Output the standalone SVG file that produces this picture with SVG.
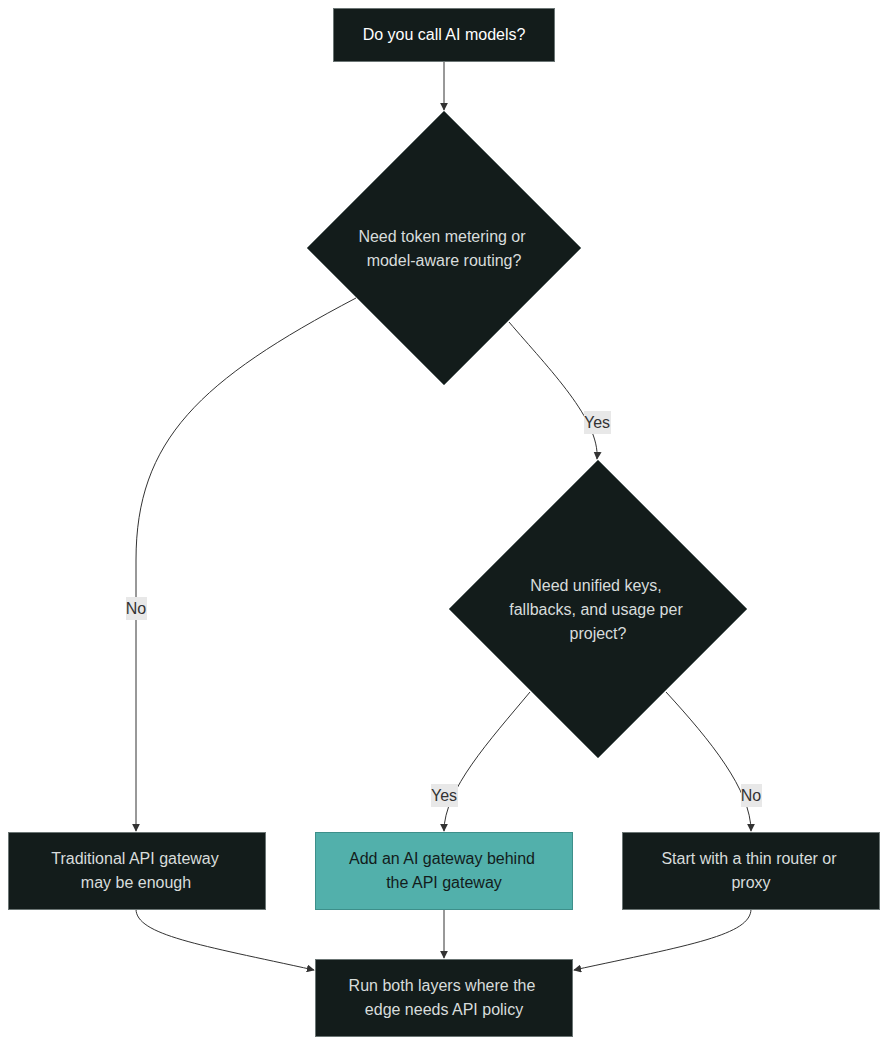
<svg xmlns="http://www.w3.org/2000/svg" width="896" height="1054" viewBox="0 0 896 1054">
<style>
.n{fill:#131c1b;stroke:#6b7574;stroke-width:1}
.t{fill:#d8dcdc;font-family:"Liberation Sans",Arial,sans-serif;font-size:16px;text-anchor:middle}
.e{fill:none;stroke:#333;stroke-width:1;marker-end:url(#a)}
.lb{fill:#e8e8e8}
.lt{fill:#333;font-family:"Liberation Sans",Arial,sans-serif;font-size:16px;text-anchor:middle}
</style>
<defs><marker id="a" viewBox="0 0 10 10" refX="9" refY="5" markerWidth="8" markerHeight="8" orient="auto"><path d="M0,0L10,5L0,10z" fill="#333"/></marker></defs>
<rect width="896" height="1054" fill="#fff"/>
<g id="edges">
<path class="e" d="M444,61V110"/>
<path class="e" d="M509,322C550,370 600,420 597,459"/>
<path class="e" d="M356,298C200,380 136,440 136,560V831"/>
<path class="e" d="M530,692C490,740 444,790 444,831"/>
<path class="e" d="M666,692C710,740 751,790 751,831"/>
<path class="e" d="M136,909C136,935 200,945 314,970"/>
<path class="e" d="M444,909V958"/>
<path class="e" d="M751,909C751,935 690,945 574,970"/>
<rect class="lb" x="584" y="411" width="27" height="23"/><text class="lt" x="597" y="428">Yes</text>
<rect class="lb" x="126" y="597" width="21" height="23"/><text class="lt" x="136" y="614">No</text>
<rect class="lb" x="431" y="784" width="27" height="23"/><text class="lt" x="444" y="801">Yes</text>
<rect class="lb" x="741" y="784" width="21" height="23"/><text class="lt" x="751" y="801">No</text>
</g>
<g id="n1"><rect class="n" x="333.5" y="8.5" width="221" height="53"/><text class="t" x="444" y="40" fill="#fff" style="fill:#fff">Do you call AI models?</text></g>
<g id="n2"><polygon class="n" points="444,111 581,248 444,385 307,248"/><text class="t" x="442" y="242">Need token metering or</text><text class="t" x="444" y="266">model-aware routing?</text></g>
<g id="n3"><polygon class="n" points="598,460 747,609 598,758 449,609"/><text class="t" x="596" y="591">Need unified keys,</text><text class="t" x="596" y="615">fallbacks, and usage per</text><text class="t" x="598" y="639">project?</text></g>
<g id="n4"><rect class="n" x="8.5" y="832.5" width="257" height="77"/><text class="t" x="135" y="864">Traditional API gateway</text><text class="t" x="136" y="888">may be enough</text></g>
<g id="n5"><rect x="315.5" y="832.5" width="257" height="77" fill="#52b0ab" stroke="#3d8f8a"/><text class="t" x="442" y="864" style="fill:#131c1b">Add an AI gateway behind</text><text class="t" x="444" y="888" style="fill:#131c1b">the API gateway</text></g>
<g id="n6"><rect class="n" x="622.5" y="832.5" width="257" height="77"/><text class="t" x="749" y="864">Start with a thin router or</text><text class="t" x="751" y="888">proxy</text></g>
<g id="n7"><rect class="n" x="315.5" y="959.5" width="257" height="77"/><text class="t" x="442" y="991">Run both layers where the</text><text class="t" x="444" y="1015">edge needs API policy</text></g>
</svg>
